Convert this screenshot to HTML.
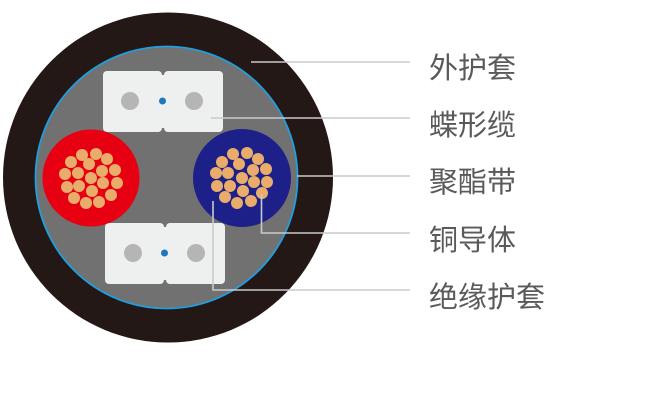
<!DOCTYPE html>
<html><head><meta charset="utf-8"><style>
html,body{margin:0;padding:0;background:#fff;width:665px;height:401px;overflow:hidden}
text{font-family:"Liberation Sans","Noto Sans CJK SC",sans-serif;font-size:29px;fill:#5a5a5a}
</style></head><body>
<svg width="665" height="401" viewBox="0 0 665 401" xmlns="http://www.w3.org/2000/svg">
<circle cx="168" cy="177.5" r="165" fill="#231815"/>
<circle cx="166.5" cy="177.5" r="131" fill="#727171" stroke="#1e9fe0" stroke-width="1.8"/>
<g fill="#eef0ef">
<rect x="103" y="71" width="59" height="61" rx="4"/><rect x="164" y="71" width="59" height="61" rx="4"/>
<rect x="105" y="223" width="59" height="61" rx="4"/><rect x="166" y="223" width="59" height="61" rx="4"/>
<rect x="150" y="75" width="26" height="53"/><rect x="152" y="227" width="26" height="53"/>
</g>
<g fill="#b5b5b5"><circle cx="130" cy="101" r="9"/><circle cx="194" cy="101" r="9"/><circle cx="133" cy="253" r="9"/><circle cx="196" cy="253" r="9"/></g>
<g fill="#1e78c0"><circle cx="162.5" cy="101" r="3.5"/><circle cx="164.5" cy="253" r="3.5"/></g>
<circle cx="91" cy="178" r="48.5" fill="#e60012"/>
<circle cx="242" cy="178" r="49" fill="#1d2088"/>
<g fill="#e9ac6a">
<circle cx="82" cy="155" r="6"/><circle cx="96" cy="154" r="6"/><circle cx="71" cy="162" r="6"/><circle cx="89" cy="164" r="6"/><circle cx="107" cy="159" r="6"/><circle cx="65" cy="174" r="6"/><circle cx="78" cy="173" r="6"/><circle cx="91" cy="178" r="6"/><circle cx="102" cy="171" r="6"/><circle cx="115" cy="170" r="6"/><circle cx="67" cy="187" r="6"/><circle cx="79" cy="186" r="6"/><circle cx="92" cy="191" r="6"/><circle cx="103" cy="183" r="6"/><circle cx="117" cy="183" r="6"/><circle cx="74" cy="198" r="6"/><circle cx="86" cy="203" r="6"/><circle cx="99" cy="202" r="6"/><circle cx="111" cy="195" r="6"/>
<circle cx="233" cy="154" r="6"/><circle cx="247" cy="153" r="6"/><circle cx="222" cy="162" r="6"/><circle cx="239" cy="164" r="6"/><circle cx="258" cy="159" r="6"/><circle cx="216" cy="173" r="6"/><circle cx="228" cy="173" r="6"/><circle cx="242" cy="178" r="6"/><circle cx="253" cy="170" r="6"/><circle cx="266" cy="169" r="6"/><circle cx="217" cy="186" r="6"/><circle cx="230" cy="186" r="6"/><circle cx="243" cy="191" r="6"/><circle cx="254" cy="182" r="6"/><circle cx="267" cy="182" r="6"/><circle cx="225" cy="197" r="6"/><circle cx="237" cy="203" r="6"/><circle cx="251" cy="201" r="6"/><circle cx="262" cy="193" r="6"/>
</g>
<g stroke="#c9caca" stroke-width="1.6" fill="none">
<path d="M251 62H410"/>
<path d="M211 118H410"/>
<path d="M297 176H410"/>
<path d="M261.5 194V233H410"/>
<path d="M213 201V290H410"/>
</g>
<text x="429" y="78">外护套</text>
<text x="429" y="135">蝶形缆</text>
<text x="429" y="192">聚酯带</text>
<text x="429" y="250">铜导体</text>
<text x="429" y="307">绝缘护套</text>
</svg>
</body></html>
